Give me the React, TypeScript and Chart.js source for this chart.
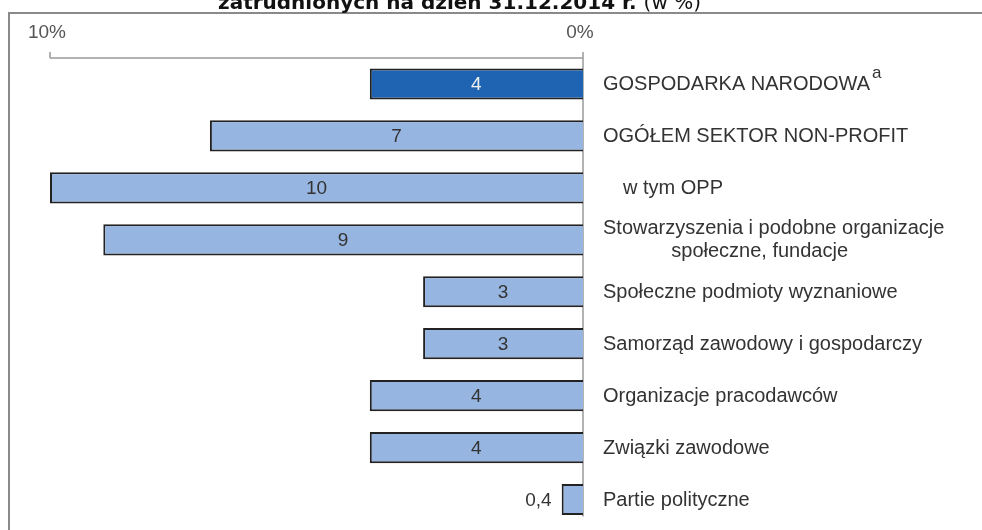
import React, { useEffect, useRef } from "react";
import { Chart, registerables } from "chart.js";

Chart.register(...registerables);

const categories = [
  "GOSPODARKA NARODOWA",
  "OGÓŁEM SEKTOR NON-PROFIT",
  "w tym OPP",
  "Stowarzyszenia i podobne organizacje\nspołeczne, fundacje",
  "Społeczne podmioty wyznaniowe",
  "Samorząd zawodowy i gospodarczy",
  "Organizacje pracodawców",
  "Związki zawodowe",
  "Partie polityczne",
];
const values = [4, 7, 10, 9, 3, 3, 4, 4, 0.4];
const footnotes = ["a", "", "", "", "", "", "", "", ""];
const xTickValues = [10, 0];
const xTickLabels = ["10%", "0%"];
const titleBold = "zatrudnionych na dzień 31.12.2014 r.";
const titleNormal = "(w %)";

const SANS = "'Liberation Sans', Arial, sans-serif";
const DARK = "#1f63b3";
const LIGHT = "#96b5e0";

const overlayPlugin = {
  id: "overlay",
  beforeDatasetsDraw(chart: any) {
    const ctx = chart.ctx;
    const xs = chart.scales.x;
    const area = chart.chartArea;
    const axisY = area.top;
    ctx.save();
    // axis line
    ctx.strokeStyle = "#9a9a9a";
    ctx.lineWidth = 1.5;
    ctx.beginPath();
    ctx.moveTo(xs.getPixelForValue(10), axisY);
    ctx.lineTo(xs.getPixelForValue(0), axisY);
    ctx.stroke();
    // ticks and labels
    ctx.font = `19px ${SANS}`;
    ctx.fillStyle = "#555";
    ctx.textAlign = "center";
    ctx.textBaseline = "middle";
    xTickValues.forEach((v, i) => {
      const px = xs.getPixelForValue(v);
      ctx.beginPath();
      ctx.moveTo(px, axisY);
      ctx.lineTo(px, axisY - 6);
      ctx.stroke();
      ctx.fillText(xTickLabels[i], px - 3, axisY - 25);
    });
    // zero line
    const zx = xs.getPixelForValue(0);
    ctx.beginPath();
    ctx.moveTo(zx, axisY);
    ctx.lineTo(zx, area.bottom - 9);
    ctx.stroke();
    ctx.restore();
  },
  afterDatasetsDraw(chart: any) {
    const ctx = chart.ctx;
    const xs = chart.scales.x;
    const ys = chart.scales.y;
    const meta = chart.getDatasetMeta(0);
    const zx = xs.getPixelForValue(0);
    ctx.save();
    // value labels
    ctx.textBaseline = "middle";
    ctx.font = `19px ${SANS}`;
    meta.data.forEach((bar: any, i: number) => {
      const v = values[i];
      const txt = String(v).replace(".", ",");
      if (v >= 1) {
        ctx.textAlign = "center";
        ctx.fillStyle = i === 0 ? "#f0f0f0" : "#333";
        ctx.fillText(txt, (bar.x + bar.base) / 2, bar.y + 1);
      } else {
        ctx.textAlign = "right";
        ctx.fillStyle = "#333";
        ctx.fillText(txt, bar.x - 10, bar.y + 1);
      }
    });
    // category labels
    ctx.fillStyle = "#333";
    ctx.textAlign = "left";
    categories.forEach((c, i) => {
      const y = ys.getPixelForValue(i);
      const lines = c.split("\n");
      const x0 = zx + 20 + (c === "w tym OPP" ? 20 : 0);
      ctx.font = `20px ${SANS}`;
      if (lines.length === 1) {
        ctx.fillText(lines[0], x0, y + 1);
        if (footnotes[i]) {
          const w = ctx.measureText(lines[0]).width;
          ctx.font = `17px ${SANS}`;
          ctx.fillText(footnotes[i], x0 + w + 2, y - 11);
        }
      } else {
        const lh = 23;
        const w0 = ctx.measureText(lines[0]).width;
        lines.forEach((ln, k) => {
          const ly = y + (k - (lines.length - 1) / 2) * lh;
          if (k === 0) {
            ctx.fillText(ln, x0, ly);
          } else {
            const w = ctx.measureText(ln).width;
            ctx.fillText(ln, x0 + w0 / 2 - w / 2 - 14, ly);
          }
        });
      }
    });
    ctx.restore();
  },
  afterDraw(chart: any) {
    const ctx = chart.ctx;
    ctx.save();
    // frame
    ctx.strokeStyle = "#8a8a8a";
    ctx.lineWidth = 2;
    ctx.strokeRect(9, 13, 1000, 600);
    // title
    ctx.textBaseline = "alphabetic";
    ctx.textAlign = "left";
    ctx.fillStyle = "#111";
    ctx.font = "bold 20px 'DejaVu Sans', Verdana, sans-serif";
    ctx.fillText(titleBold, 218, 9);
    const wb = ctx.measureText(titleBold + " ").width;
    ctx.font = "20px 'DejaVu Sans', Verdana, sans-serif";
    ctx.fillText(titleNormal, 218 + wb, 9);
    ctx.restore();
  },
};

export default function App() {
  const ref = useRef<HTMLCanvasElement>(null);
  useEffect(() => {
    if (!ref.current) return;
    const chart = new Chart(ref.current, {
      type: "bar",
      data: {
        labels: categories,
        datasets: [
          {
            data: values,
            backgroundColor: values.map((_, i) => (i === 0 ? DARK : LIGHT)),
            borderColor: "#222",
            borderWidth: 2,
            barPercentage: 0.6,
            categoryPercentage: 1,
          },
        ],
      },
      options: {
        indexAxis: "y",
        responsive: false,
        animation: false,
        events: [],
        layout: { padding: { top: 58, left: 50, right: 399, bottom: 4.5 } },
        plugins: { legend: { display: false }, tooltip: { enabled: false }, title: { display: false } },
        scales: {
          x: { type: "linear", min: 0, max: 10, reverse: true, display: false },
          y: { type: "category", display: false },
        },
      },
      plugins: [overlayPlugin],
    });
    return () => chart.destroy();
  }, []);
  return (
    <div style={{ position: "fixed", left: 0, top: 0, width: 982, height: 530, background: "#fff" }}>
      <canvas ref={ref} width={982} height={530} style={{ display: "block" }} />
    </div>
  );
}
